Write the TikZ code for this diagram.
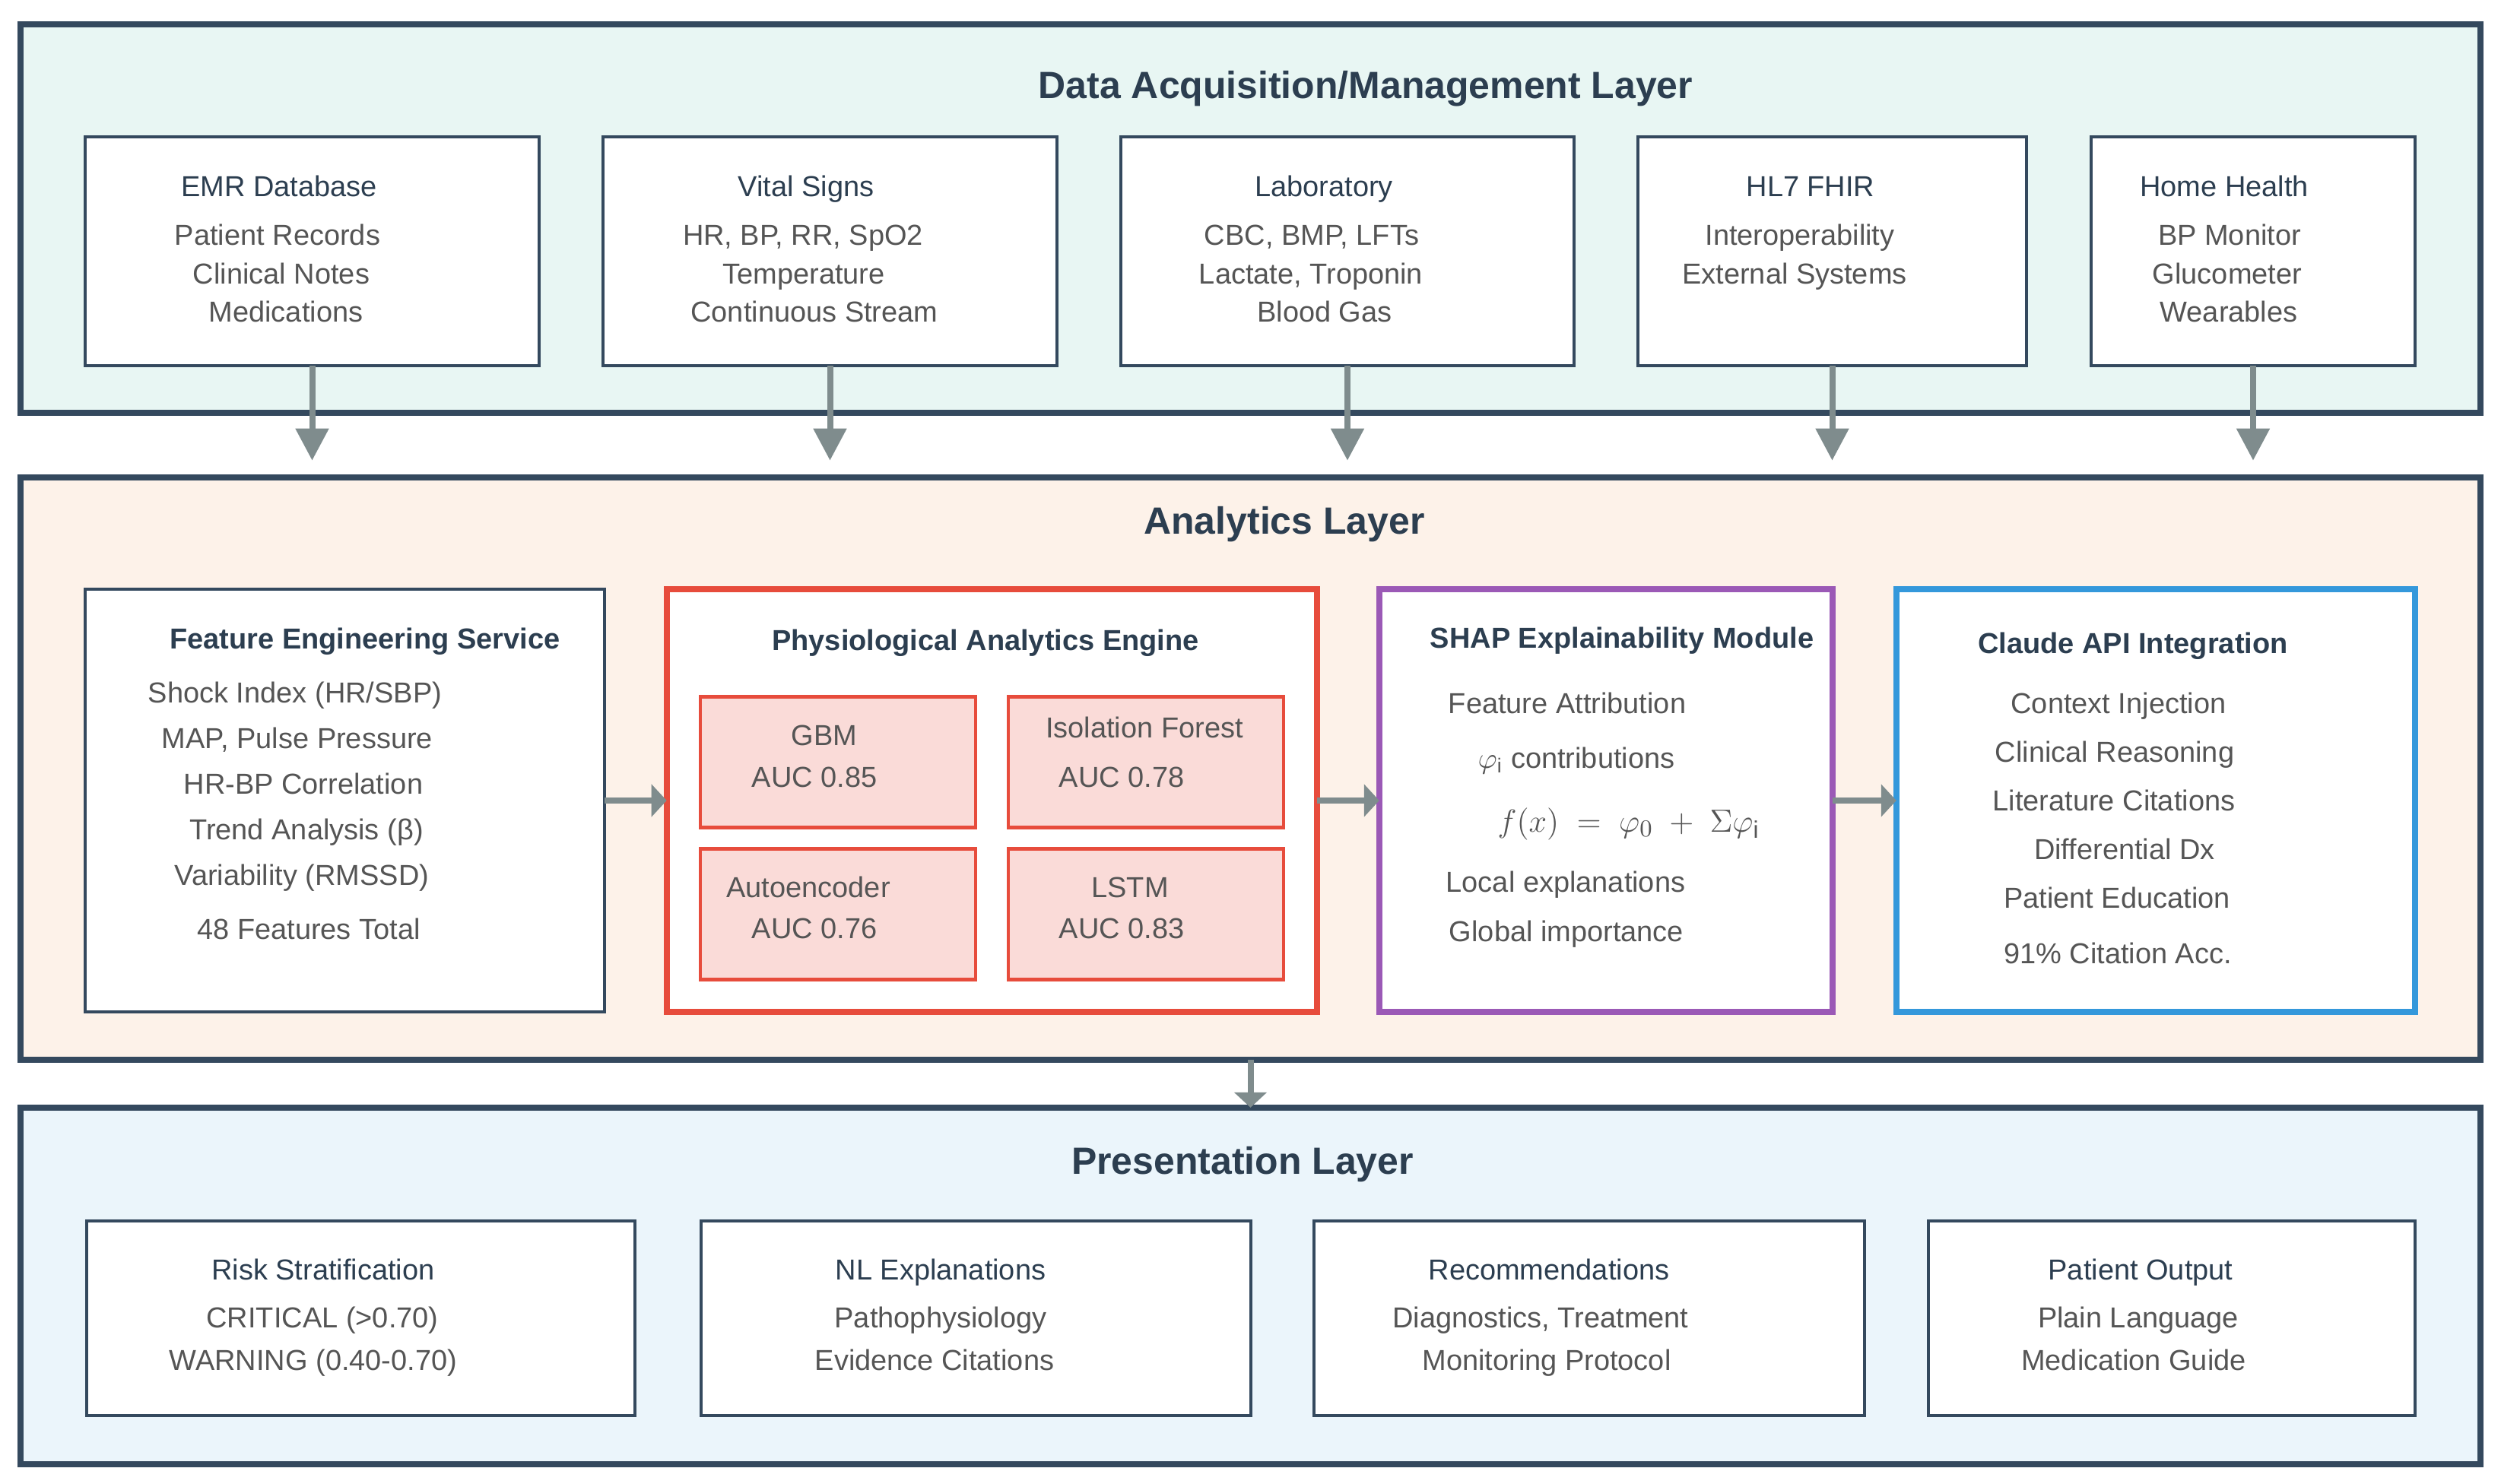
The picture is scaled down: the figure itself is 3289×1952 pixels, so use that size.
\documentclass[tikz,border=0pt]{standalone}
\usepackage{fontspec}
\setmainfont{Liberation Sans}
\usepackage{xcolor}
\usepackage{tikz}
\usetikzlibrary{arrows.meta}
\definecolor{frameline}{HTML}{34495e}
\definecolor{titletext}{HTML}{2c3e50}
\definecolor{bodytext}{HTML}{555555}
\definecolor{flowgrey}{HTML}{7f8c8d}
\definecolor{acqFill}{HTML}{e8f6f3}
\definecolor{anaFill}{HTML}{fdf2e9}
\definecolor{presFill}{HTML}{ebf5fb}
\definecolor{engineRed}{HTML}{e74c3c}
\definecolor{engineRedLight}{HTML}{fadbd8}
\definecolor{shapPurple}{HTML}{9b59b6}
\definecolor{claudeBlue}{HTML}{3498db}

\begin{document}
\begin{tikzpicture}[x=0.01cm, y=-0.01cm,
    every node/.style={inner sep=0pt, outer sep=0pt},
    layer/.style={
        rectangle, draw=frameline, line width=0.08cm,
        fill=#1, minimum width=32.33cm,
    },
    layertitle/.style={
        font=\fontsize{14.2}{17}\selectfont\bfseries, text=titletext,
        text height=0.36cm, text depth=0pt,
    },
    srcbox/.style={
        rectangle, draw=frameline, line width=0.045cm, fill=white,
    },
    modbox/.style={
        rectangle, draw=#1, line width=0.08cm, fill=white,
        minimum height=5.56cm,
    },
    modelbox/.style={
        rectangle, draw=engineRed, line width=0.045cm, fill=engineRedLight,
        minimum width=3.62cm, minimum height=1.72cm,
    },
    boxhead/.style={
        font=\fontsize{10.8}{13}\selectfont, text=titletext,
        text height=0.27cm, text depth=0pt,
    },
    boxheadbf/.style={boxhead, font=\fontsize{10.8}{13}\selectfont\bfseries},
    entry/.style={
        font=\fontsize{10.8}{13}\selectfont, text=bodytext,
        text height=0.27cm, text depth=0pt,
    },
    feedarrow/.style={
        draw=flowgrey, line width=0.08cm,
        -{Triangle[length=0.42cm, width=0.42cm]},
    },
    handoff/.style={
        draw=flowgrey, line width=0.08cm,
        -{Triangle[length=0.2cm, width=0.42cm]},
    },
]
\useasboundingbox (0,0) rectangle (3289,1952);

% ── Data acquisition / management layer ───────────────────────────────
\node[layer=acqFill, minimum height=5.11cm] (acq) at (1644.5, 287.5) {};
\node[layertitle] (acq-title) at (1796, 111) {Data Acquisition/Management Layer};

\def\rowA{245}
\def\rowB{309}
\def\rowC{359.5}
\def\rowD{410}

\node[srcbox, minimum width=5.97cm, minimum height=3.01cm] (emr)   at (410.5, 330.5) {};
\node[srcbox, minimum width=5.97cm, minimum height=3.01cm] (vital) at (1091.5, 330.5) {};
\node[srcbox, minimum width=5.96cm, minimum height=3.01cm] (lab)   at (1772, 330.5) {};
\node[srcbox, minimum width=5.11cm, minimum height=3.01cm] (hl7)   at (2409.5, 330.5) {};
\node[srcbox, minimum width=4.26cm, minimum height=3.01cm] (home)  at (2963, 330.5) {};

\node[boxhead] (emr-head) at (367, \rowA) {EMR Database};
\node[entry]   (emr-1)    at (365, \rowB) {Patient Records};
\node[entry]   (emr-2)    at (370, \rowC) {Clinical Notes};
\node[entry]   (emr-3)    at (376, \rowD) {Medications};

\node[boxhead] (vital-head) at (1060, \rowA) {Vital Signs};
\node[entry]   (vital-1)    at (1056, \rowB) {HR, BP, RR, SpO2};
\node[entry]   (vital-2)    at (1057, \rowC) {Temperature};
\node[entry]   (vital-3)    at (1071, \rowD) {Continuous Stream};

\node[boxhead] (lab-head) at (1741, \rowA) {Laboratory};
\node[entry]   (lab-1)    at (1725, \rowB) {CBC, BMP, LFTs};
\node[entry]   (lab-2)    at (1724, \rowC) {Lactate, Troponin};
\node[entry]   (lab-3)    at (1742, \rowD) {Blood Gas};

\node[boxhead] (hl7-head) at (2381, \rowA) {HL7 FHIR};
\node[entry]   (hl7-1)    at (2367, \rowB) {Interoperability};
\node[entry]   (hl7-2)    at (2360, \rowC) {External Systems};

\node[boxhead] (home-head) at (2925, \rowA) {Home Health};
\node[entry]   (home-1)    at (2932, \rowB) {BP Monitor};
\node[entry]   (home-2)    at (2929, \rowC) {Glucometer};
\node[entry]   (home-3)    at (2931, \rowD) {Wearables};

% ── Analytics layer ───────────────────────────────────────────────────
\node[layer=anaFill, minimum height=7.66cm] (ana) at (1644.5, 1011) {};
\node[layertitle] (ana-title) at (1689, 684) {Analytics Layer};

% Feature engineering
\node[srcbox, minimum width=6.83cm, minimum height=5.56cm] (feat) at (453.5, 1053) {};
\node[boxheadbf] (feat-head) at (480, 840)  {Feature Engineering Service};
\node[entry]     (feat-1)    at (388, 911)  {Shock Index (HR/SBP)};
\node[entry]     (feat-2)    at (391, 971)  {MAP, Pulse Pressure};
\node[entry]     (feat-3)    at (399, 1031) {HR-BP Correlation};
\node[entry]     (feat-4)    at (403, 1091) {Trend Analysis (β)};
\node[entry]     (feat-5)    at (397, 1151) {Variability (RMSSD)};
\node[entry]     (feat-6)    at (406, 1222) {48 Features Total};

% Physiological engine with its four models
\node[modbox=engineRed, minimum width=8.55cm] (engine) at (1304.5, 1053) {};
\node[boxheadbf] (engine-head) at (1296, 842) {Physiological Analytics Engine};

\node[modelbox] (gbm)  at (1102, 1002.5) {};
\node[modelbox] (iso)  at (1507, 1002.5) {};
\node[modelbox] (ae)   at (1102, 1202.5) {};
\node[modelbox] (lstm) at (1507, 1202.5) {};

\node[entry] (gbm-name)  at (1084, 967)  {GBM};
\node[entry] (gbm-auc)   at (1071, 1022) {AUC 0.85};
\node[entry] (iso-name)  at (1505, 957)  {Isolation Forest};
\node[entry] (iso-auc)   at (1475, 1022) {AUC 0.78};
\node[entry] (ae-name)   at (1063, 1167) {Autoencoder};
\node[entry] (ae-auc)    at (1071, 1221) {AUC 0.76};
\node[entry] (lstm-name) at (1486, 1167) {LSTM};
\node[entry] (lstm-auc)  at (1475, 1221) {AUC 0.83};

% SHAP module
\node[modbox=shapPurple, minimum width=5.96cm] (shap) at (2112, 1053) {};
\node[boxheadbf] (shap-head) at (2133, 839)  {SHAP Explainability Module};
\node[entry]     (shap-1)    at (2061, 925)  {Feature Attribution};
\node[entry]     (shap-2)    at (2073, 997)  {$\varphi_{\mathrm{i}}$ contributions};
\node[entry, font=\fontsize{12.8}{15}\selectfont, text height=0.22cm]
                 (shap-eq)   at (2142, 1083) {$f(x)\;=\;\varphi_0\;+\;\Sigma\varphi_{\mathrm{i}}$};
\node[entry]     (shap-3)    at (2059, 1160) {Local explanations};
\node[entry]     (shap-4)    at (2060, 1225) {Global importance};

% Claude integration
\node[modbox=claudeBlue, minimum width=6.82cm] (claude) at (2835, 1053) {};
\node[boxheadbf] (claude-head) at (2805, 846)  {Claude API Integration};
\node[entry]     (claude-1)    at (2786, 925)  {Context Injection};
\node[entry]     (claude-2)    at (2781, 989)  {Clinical Reasoning};
\node[entry]     (claude-3)    at (2780, 1053) {Literature Citations};
\node[entry]     (claude-4)    at (2794, 1117) {Differential Dx};
\node[entry]     (claude-5)    at (2784, 1181) {Patient Education};
\node[entry]     (claude-6)    at (2785, 1254) {91\% Citation Acc.};

% ── Presentation layer ────────────────────────────────────────────────
\node[layer=presFill, minimum height=4.69cm] (pres) at (1644.5, 1691.5) {};
\node[layertitle] (pres-title) at (1634, 1526) {Presentation Layer};

\def\outA{1670}
\def\outB{1733}
\def\outC{1789}

\node[srcbox, minimum width=7.21cm, minimum height=2.56cm] (risk) at (474.5, 1734) {};
\node[srcbox, minimum width=7.23cm, minimum height=2.56cm] (nl)   at (1283.5, 1734) {};
\node[srcbox, minimum width=7.24cm, minimum height=2.56cm] (rec)  at (2090, 1734) {};
\node[srcbox, minimum width=6.40cm, minimum height=2.56cm] (pout) at (2856, 1734) {};

\node[boxhead] (risk-head) at (425, \outA) {Risk Stratification};
\node[entry]   (risk-1)    at (424, \outB) {CRITICAL (>0.70)};
\node[entry]   (risk-2)    at (412, \outC) {WARNING (0.40-0.70)};

\node[boxhead] (nl-head) at (1237, \outA) {NL Explanations};
\node[entry]   (nl-1)    at (1237, \outB) {Pathophysiology};
\node[entry]   (nl-2)    at (1229, \outC) {Evidence Citations};

\node[boxhead] (rec-head) at (2037, \outA) {Recommendations};
\node[entry]   (rec-1)    at (2026, \outB) {Diagnostics, Treatment};
\node[entry]   (rec-2)    at (2034, \outC) {Monitoring Protocol};

\node[boxhead] (pout-head) at (2815, \outA) {Patient Output};
\node[entry]   (pout-1)    at (2812, \outB) {Plain Language};
\node[entry]   (pout-2)    at (2806, \outC) {Medication Guide};

% ── Flow arrows ───────────────────────────────────────────────────────
\foreach \src in {emr, vital, lab, hl7, home}
    \draw[feedarrow, shorten >=0.22cm] (\src.south) -- (\src.south |- ana.north);

\draw[handoff] (feat.east) -- (engine.west);
\draw[handoff] (engine.east) -- (shap.west);
\draw[handoff] (shap.east) -- (claude.west);
\draw[handoff] (ana.south) -- (pres.north);

\end{tikzpicture}
\end{document}
